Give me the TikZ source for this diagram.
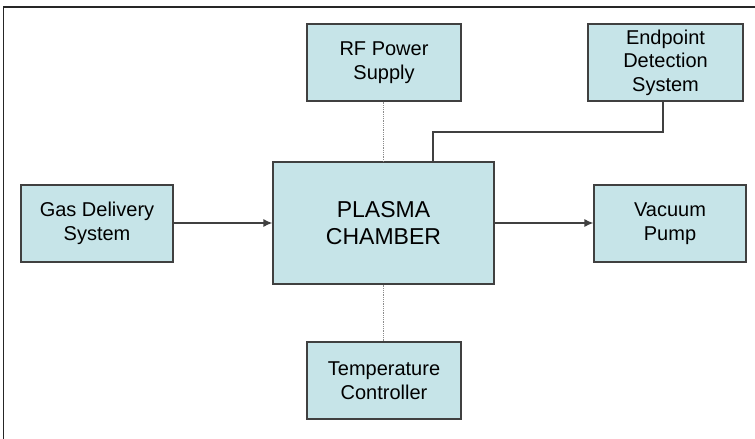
\documentclass[tikz,border=0pt]{standalone}
\usepackage{fontspec}
\setmainfont{Liberation Sans}
\usetikzlibrary{arrows.meta}
\definecolor{boxfill}{RGB}{198,228,232}
\definecolor{boxline}{RGB}{64,64,64}
\tikzset{
  blk/.style={draw=boxline, line width=1.2pt, fill=boxfill, align=center, inner sep=0pt,
    font=\fontsize{20}{23.5}\selectfont},
  conn/.style={draw=black!75, line width=1.3pt},
  arr/.style={conn, -{Latex[length=9pt,width=8pt]}},
  dots/.style={draw=black!45, line width=1pt, dash pattern=on 1pt off 0.8pt}
}
\begin{document}
\begin{tikzpicture}[x=1pt,y=-1pt]
\useasboundingbox (0,0) rectangle (755,439);
\draw[line width=1.3pt, black!85] (3.5,439) -- (3.5,7) -- (755,7);

\node[blk, minimum width=152pt, minimum height=77pt] (gas) at (97,223.5) {Gas Delivery\\System};
\node[blk, minimum width=221pt, minimum height=122pt, font=\fontsize{23}{27.5}\selectfont] (plasma) at (383.5,223) {PLASMA\\CHAMBER};
\node[blk, minimum width=152pt, minimum height=77pt] (vac) at (670,223.5) {Vacuum\\Pump};
\node[blk, minimum width=154pt, minimum height=77pt] (rf) at (384,62.5) {RF Power\\Supply};
\node[blk, minimum width=155pt, minimum height=77pt] (ep) at (665.5,62.5) {Endpoint\\Detection\\System};
\node[blk, minimum width=154pt, minimum height=77pt] (temp) at (384,380.5) {Temperature\\Controller};

\draw[arr] (gas.east |- 0,223) -- (plasma.west |- 0,223);
\draw[arr] (plasma.east |- 0,223) -- (vac.west |- 0,223);

\draw[dots] (rf.south -| 383,0) -- (plasma.north -| 383,0);
\draw[dots] (plasma.south -| 383,0) -- (temp.north -| 383,0);

\coordinate (k) at (433,132);
\draw[conn] (ep.south -| 663,0) |- (k) -- (k |- plasma.north);
\end{tikzpicture}
\end{document}
